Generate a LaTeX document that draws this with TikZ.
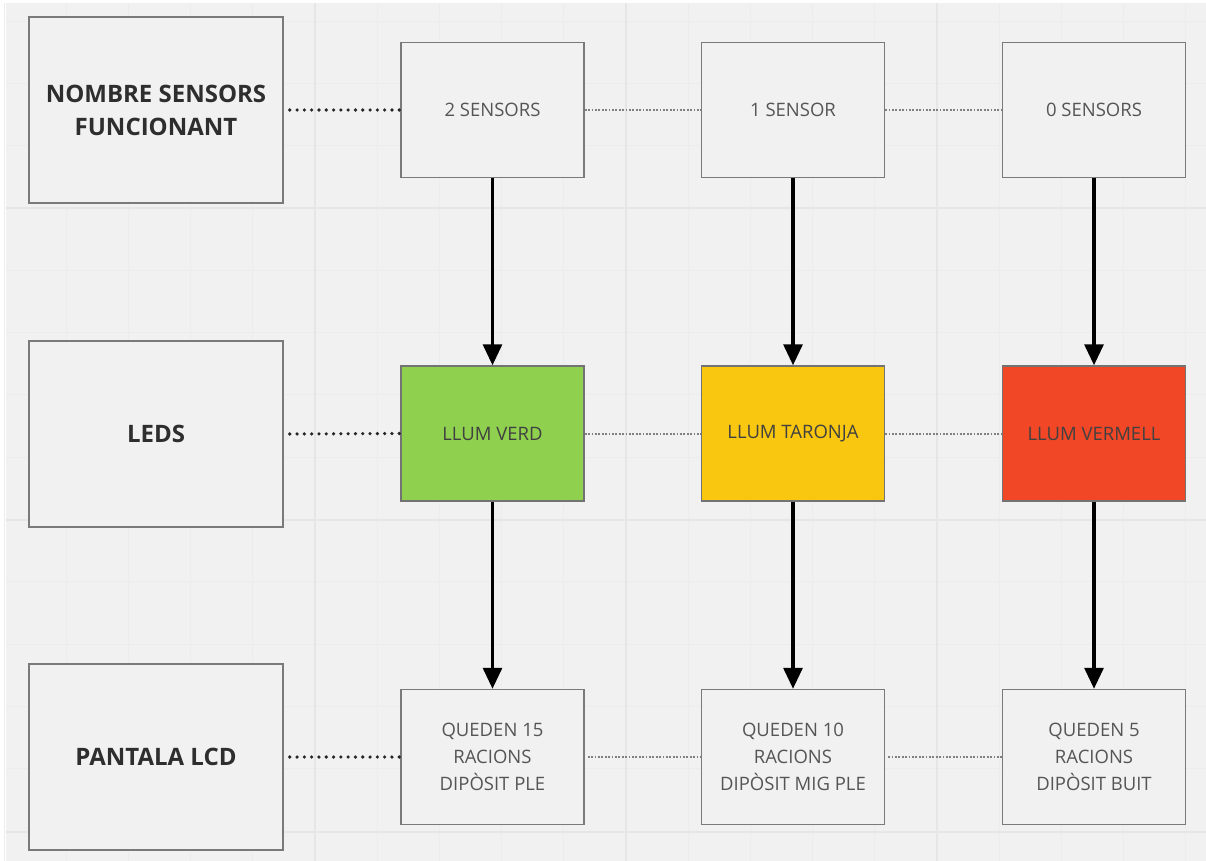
\documentclass[tikz,border=0pt]{standalone}
\usepackage{fontspec}
\setmainfont{Open Sans}
\usetikzlibrary{arrows.meta}
\definecolor{bg}{HTML}{F1F1F1}
\definecolor{gridminor}{HTML}{ECECEC}
\definecolor{gridmajor}{HTML}{E6E6E6}
\definecolor{boxline}{HTML}{7A7A7A}
\definecolor{txt}{HTML}{555555}
\definecolor{lbl}{HTML}{2E2E2E}
\definecolor{ledgreen}{HTML}{8FD14F}
\definecolor{ledorange}{HTML}{FAC710}
\definecolor{ledred}{HTML}{F24726}
\tikzset{
  labelbox/.style={draw=boxline, line width=1.5pt, fill=bg, minimum width=254pt, minimum height=186pt,
    inner sep=0pt, align=center, text=lbl, font=\fontsize{24}{33}\selectfont\bfseries},
  statebox/.style={draw=boxline, line width=1.5pt, fill=bg, minimum width=183pt, minimum height=135pt,
    inner sep=0pt, align=center, text=txt, font=\fontsize{18.5}{27}\selectfont},
  ledbox/.style={statebox, draw=black!55, text=black!75},
  bigdots/.style={line width=3.6pt, dash pattern=on 0pt off 7.3pt, line cap=round, draw=black!85},
  finedots/.style={line width=2pt, dash pattern=on 1.8pt off 1.6pt, draw=black!50},
  flow/.style={line width=3.2pt, draw=black, -{Triangle[width=19pt,length=21pt]}}
}
\begin{document}
\begin{tikzpicture}[x=1pt,y=-1pt]
\useasboundingbox (0,0) rectangle (1206,861);
\fill[white] (0,0) rectangle (1206,861);
\fill[bg] (6,3) rectangle (1206,861);
% grid
\foreach \i in {0,...,19} {
  \draw[gridminor, line width=0.8pt] ({4+62.2*\i},3) -- ({4+62.2*\i},861);
}
\foreach \j in {0,...,13} {
  \draw[gridminor, line width=0.8pt] (6,{21+62.3*\j}) -- (1206,{21+62.3*\j});
}
\foreach \xx in {315,626,937} \draw[gridmajor, line width=1.5pt] (\xx,3) -- (\xx,861);
\foreach \yy in {208,520,832} \draw[gridmajor, line width=1.5pt] (6,\yy) -- (1206,\yy);

% label boxes
\node[labelbox] (lsens) at (156,110) {NOMBRE SENSORS\\FUNCIONANT};
\node[labelbox] (lleds) at (156,434) {LEDS};
\node[labelbox] (llcd) at (156,757) {PANTALA LCD};

% row 1
\node[statebox] (s2) at (492.5,110) {2 SENSORS};
\node[statebox] (s1) at (793,110) {1 SENSOR};
\node[statebox] (s0) at (1094,110) {0 SENSORS};
% row 2
\node[ledbox, fill=ledgreen] (lv) at (492.5,433.5) {LLUM VERD};
\node[ledbox, fill=ledorange] (lt) at (793,433.5) {LLUM TARONJA};
\node[ledbox, fill=ledred] (lr) at (1094,433.5) {LLUM VERMELL};
% row 3
\node[statebox] (q15) at (492.5,757) {QUEDEN 15\\RACIONS\\DIPÒSIT PLE};
\node[statebox] (q10) at (793,757) {QUEDEN 10\\RACIONS\\DIPÒSIT MIG PLE};
\node[statebox] (q5) at (1094,757) {QUEDEN 5\\RACIONS\\DIPÒSIT BUIT};

% dotted connectors
\draw[bigdots] ([xshift=6pt]lsens.east) -- (s2.west);
\draw[bigdots] ([xshift=6pt]lleds.east) -- (lv.west);
\draw[bigdots] ([xshift=6pt]llcd.east) -- (q15.west);
\draw[finedots] (s2.east) -- (s1.west);
\draw[finedots] (s1.east) -- (s0.west);
\draw[finedots] (lv.east) -- (lt.west);
\draw[finedots] (lt.east) -- (lr.west);
\draw[finedots] ([xshift=3pt]q15.east) -- (q10.west);
\draw[finedots] ([xshift=3pt]q10.east) -- (q5.west);

% arrows
\draw[flow] (s2.south) -- (lv.north);
\draw[flow] (s1.south) -- (lt.north);
\draw[flow] (s0.south) -- (lr.north);
\draw[flow] (lv.south) -- (q15.north);
\draw[flow] (lt.south) -- (q10.north);
\draw[flow] (lr.south) -- (q5.north);
\end{tikzpicture}
\end{document}
